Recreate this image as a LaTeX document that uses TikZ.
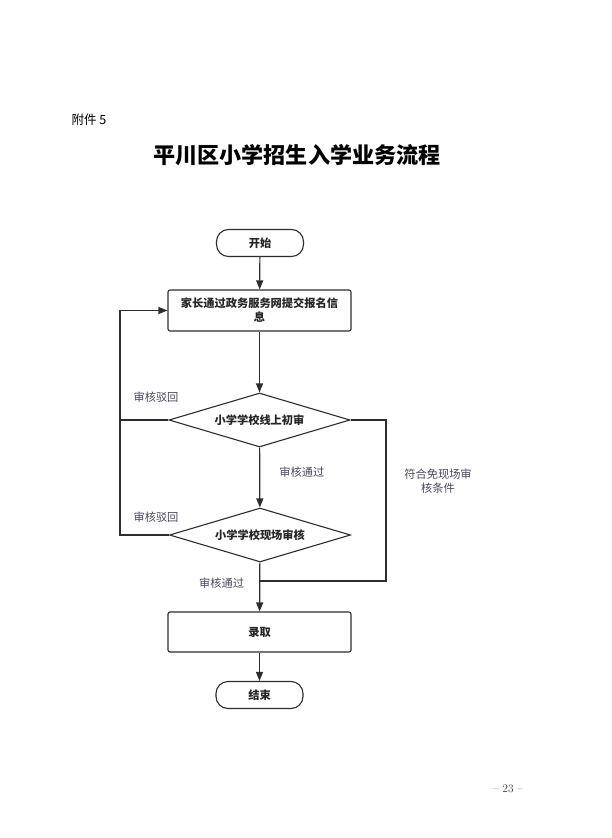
\documentclass[tikz,border=0pt]{standalone}
\usepackage{fontspec}
\newfontfamily\cjk{Noto Sans CJK SC}
\usetikzlibrary{shapes.geometric,arrows.meta}

% one pixel of the page
\def\px{0.035cm}
\definecolor{labelgrey}{RGB}{72,74,92}
\definecolor{linegrey}{RGB}{45,45,48}

\begin{document}
\begin{tikzpicture}[
    x=\px, y=-\px,
    % --- Styles ---
    % Start / end capsules
    term box/.style={draw=linegrey, line width=1.1pt, rounded corners=12*\px,
        minimum width=87*\px, minimum height=27*\px, inner sep=0pt,
        font=\cjk\bfseries\fontsize{11.2}{13}\selectfont, text=black!85},
    % Plain process steps
    step box/.style={draw=linegrey, line width=1.1pt, rounded corners=2*\px,
        minimum width=183*\px, minimum height=41*\px, inner sep=0pt, align=center,
        font=\cjk\bfseries\fontsize{11.2}{14}\selectfont, text=black!85},
    % Checks, drawn as flat diamonds
    check box/.style={diamond, draw=linegrey, line width=1.1pt, aspect=3.3,
        minimum width=181*\px, minimum height=54*\px, inner sep=0pt,
        font=\cjk\bfseries\fontsize{11.2}{13}\selectfont, text=black!85},
    flow line/.style={draw=linegrey, line width=1.2pt},
    flow arrow/.style={flow line, -{Triangle[length=9pt, width=7pt]}},
    % Grey text on the connectors
    edge text/.style={font=\cjk\fontsize{11.2}{14}\selectfont, text=labelgrey,
        align=center, inner sep=1pt}
]

% page frame
\fill[white] (0,0) rectangle (611,838);
\useasboundingbox (0,0) rectangle (611,838);

%================HEADER================
\node[anchor=west, font=\cjk\fontsize{12.5}{14}\selectfont] (annex) at (68,120) {附件 5};
\node[font=\cjk\bfseries\fontsize{22}{26}\selectfont] (title) at (297,155) {平川区小学招生入学业务流程};
%======================================

% --- 1. Main column ---
\node[term box] (start) at (260,243) {开始};
\node[step box] (apply) at (259.5,310.5) {家长通过政务服务网提交报名信\\息};
\node[check box] (online) at (259.5,420) {小学学校线上初审};
\node[check box] (onsite) at (260,535) {小学学校现场审核};
\node[step box, minimum height=40*\px] (admit) at (259.5,632) {录取};
\node[term box] (finish) at (259.5,695) {结束};

% --- 2. Turning points ---
% Return line on the left
\coordinate (backTurn) at (120,420);
% Bypass line on the right
\coordinate (skipTurn) at (386,581);
\coordinate (skipJoin) at (259.5,581);

% --- 3. Connectors ---
\draw[flow arrow] (start) -- (apply);
\draw[flow arrow] (apply) -- (online);
\draw[flow arrow] (online) -- node[edge text, anchor=west, xshift=18*\px, pos=0.41] (pass1) {审核通过} (onsite);
\draw[flow arrow] (onsite) -- node[edge text, anchor=east, xshift=-14*\px, pos=0.42] (pass2) {审核通过} (admit);
\draw[flow arrow] (admit) -- (finish);

% Rejected: back to the form
\draw[flow arrow] (online.west) -- (backTurn) |- (apply.west);
\draw[flow line] (onsite.west) -| (backTurn);
\node[edge text] (reject1) at (156,397) {审核驳回};
\node[edge text] (reject2) at (156,517) {审核驳回};

% Exempt from the on-site check
\draw[flow line] (online.east) -| (skipTurn) -- (skipJoin);
\node[edge text] (exempt) at (438,481) {符合免现场审\\核条件};

% --- 4. Page number ---
\node[font=\fontsize{11.5}{13}\selectfont, text=black!75] (page) at (508,789) {– 23 –};

\end{tikzpicture}
\end{document}
